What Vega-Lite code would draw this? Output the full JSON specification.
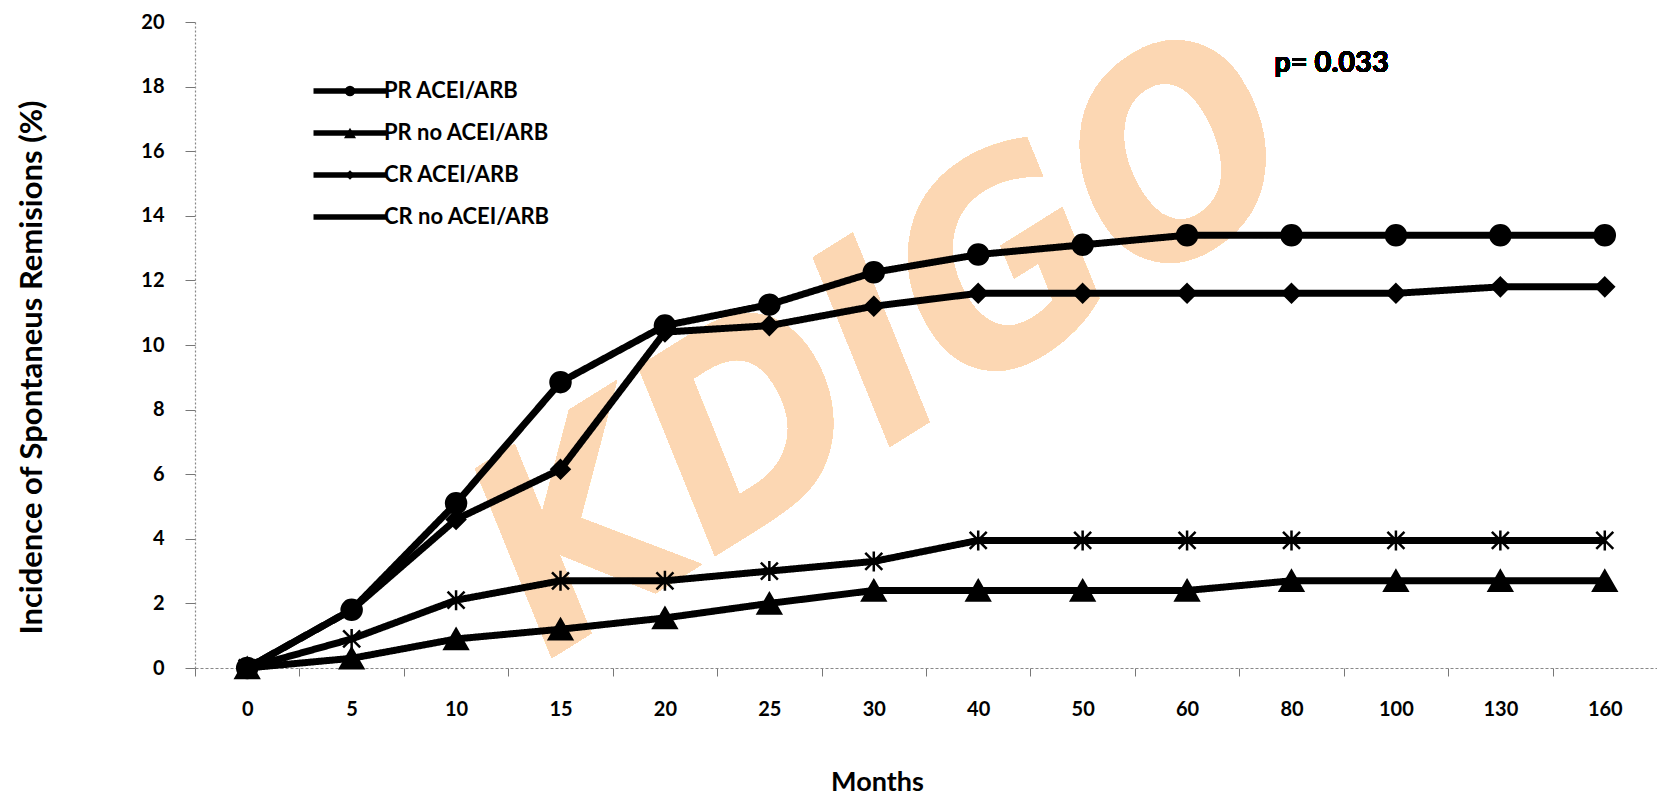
{
  "$schema": "https://vega.github.io/schema/vega-lite/v6.json",
  "width": 1462,
  "height": 646,
  "autosize": {"type": "none"},
  "padding": {"left": 195, "top": 22, "right": 0, "bottom": 128},
  "background": "white",
  "config": {
    "view": {"stroke": null},
    "font": "Lato",
    "axis": {"labelFont": "Lato", "titleFont": "Lato", "labelFontWeight": "bold", "titleFontWeight": "bold", "labelColor": "black", "titleColor": "black"}
  },
  "data": {
    "values": [
      {"m": 0, "v": 0, "s": "PR ACEI/ARB"},
      {"m": 5, "v": 1.8, "s": "PR ACEI/ARB"},
      {"m": 10, "v": 5.1, "s": "PR ACEI/ARB"},
      {"m": 15, "v": 8.85, "s": "PR ACEI/ARB"},
      {"m": 20, "v": 10.6, "s": "PR ACEI/ARB"},
      {"m": 25, "v": 11.25, "s": "PR ACEI/ARB"},
      {"m": 30, "v": 12.25, "s": "PR ACEI/ARB"},
      {"m": 40, "v": 12.8, "s": "PR ACEI/ARB"},
      {"m": 50, "v": 13.1, "s": "PR ACEI/ARB"},
      {"m": 60, "v": 13.4, "s": "PR ACEI/ARB"},
      {"m": 80, "v": 13.4, "s": "PR ACEI/ARB"},
      {"m": 100, "v": 13.4, "s": "PR ACEI/ARB"},
      {"m": 130, "v": 13.4, "s": "PR ACEI/ARB"},
      {"m": 160, "v": 13.4, "s": "PR ACEI/ARB"},
      {"m": 0, "v": 0, "s": "PR no ACEI/ARB"},
      {"m": 5, "v": 0.3, "s": "PR no ACEI/ARB"},
      {"m": 10, "v": 0.9, "s": "PR no ACEI/ARB"},
      {"m": 15, "v": 1.2, "s": "PR no ACEI/ARB"},
      {"m": 20, "v": 1.55, "s": "PR no ACEI/ARB"},
      {"m": 25, "v": 2.0, "s": "PR no ACEI/ARB"},
      {"m": 30, "v": 2.4, "s": "PR no ACEI/ARB"},
      {"m": 40, "v": 2.4, "s": "PR no ACEI/ARB"},
      {"m": 50, "v": 2.4, "s": "PR no ACEI/ARB"},
      {"m": 60, "v": 2.4, "s": "PR no ACEI/ARB"},
      {"m": 80, "v": 2.7, "s": "PR no ACEI/ARB"},
      {"m": 100, "v": 2.7, "s": "PR no ACEI/ARB"},
      {"m": 130, "v": 2.7, "s": "PR no ACEI/ARB"},
      {"m": 160, "v": 2.7, "s": "PR no ACEI/ARB"},
      {"m": 0, "v": 0, "s": "CR ACEI/ARB"},
      {"m": 5, "v": 1.8, "s": "CR ACEI/ARB"},
      {"m": 10, "v": 4.6, "s": "CR ACEI/ARB"},
      {"m": 15, "v": 6.15, "s": "CR ACEI/ARB"},
      {"m": 20, "v": 10.4, "s": "CR ACEI/ARB"},
      {"m": 25, "v": 10.6, "s": "CR ACEI/ARB"},
      {"m": 30, "v": 11.2, "s": "CR ACEI/ARB"},
      {"m": 40, "v": 11.6, "s": "CR ACEI/ARB"},
      {"m": 50, "v": 11.6, "s": "CR ACEI/ARB"},
      {"m": 60, "v": 11.6, "s": "CR ACEI/ARB"},
      {"m": 80, "v": 11.6, "s": "CR ACEI/ARB"},
      {"m": 100, "v": 11.6, "s": "CR ACEI/ARB"},
      {"m": 130, "v": 11.8, "s": "CR ACEI/ARB"},
      {"m": 160, "v": 11.8, "s": "CR ACEI/ARB"},
      {"m": 0, "v": 0, "s": "CR no ACEI/ARB"},
      {"m": 5, "v": 0.9, "s": "CR no ACEI/ARB"},
      {"m": 10, "v": 2.1, "s": "CR no ACEI/ARB"},
      {"m": 15, "v": 2.7, "s": "CR no ACEI/ARB"},
      {"m": 20, "v": 2.7, "s": "CR no ACEI/ARB"},
      {"m": 25, "v": 3.0, "s": "CR no ACEI/ARB"},
      {"m": 30, "v": 3.3, "s": "CR no ACEI/ARB"},
      {"m": 40, "v": 3.95, "s": "CR no ACEI/ARB"},
      {"m": 50, "v": 3.95, "s": "CR no ACEI/ARB"},
      {"m": 60, "v": 3.95, "s": "CR no ACEI/ARB"},
      {"m": 80, "v": 3.95, "s": "CR no ACEI/ARB"},
      {"m": 100, "v": 3.95, "s": "CR no ACEI/ARB"},
      {"m": 130, "v": 3.95, "s": "CR no ACEI/ARB"},
      {"m": 160, "v": 3.95, "s": "CR no ACEI/ARB"}
    ]
  },
  "encoding": {
    "x": {
      "field": "m", "type": "ordinal",
      "scale": {"type": "band", "paddingInner": 0, "paddingOuter": 0},
      "axis": {
        "title": "Months", "labelAngle": 0, "labelFontSize": 20, "labelPadding": 23,
        "tickBand": "extent", "tickSize": 8, "tickColor": "#777", "tickWidth": 1,
        "domainColor": "#888", "domainDash": [3, 2], "domainWidth": 1.2,
        "titleFontSize": 27, "titleX": 682, "titleY": 114, "titleBaseline": "middle", "titleAlign": "center"
      }
    },
    "y": {
      "field": "v", "type": "quantitative",
      "scale": {"domain": [0, 20], "nice": false},
      "axis": {
        "values": [0, 2, 4, 6, 8, 10, 12, 14, 16, 18, 20],
        "title": "Incidence of Spontaneus Remisions (%)",
        "grid": false, "labelFontSize": 20, "labelPadding": 21,
        "tickSize": 10, "tickColor": "#777", "tickWidth": 1,
        "domainColor": "#888", "domainDash": [2, 2], "domainWidth": 1.2,
        "titleFontSize": 31, "titleAngle": 270, "titleX": -163, "titleY": 345, "titleBaseline": "middle", "titleAlign": "center"
      }
    }
  },
  "layer": [
    {
      "mark": {"type": "text", "text": "KDIGO", "font": "DejaVu Sans Condensed, DejaVu Sans", "fontWeight": "bold", "fontStyle": "italic", "fontSize": 276, "align": "center", "baseline": "middle", "angle": -32, "dx": 16, "fill": "#FCD7B3"},
      "encoding": {"x": {"datum": 30}, "y": {"datum": 9.57}}
    },
    {
      "mark": {"type": "line", "color": "black", "strokeWidth": 7, "strokeJoin": "round"},
      "encoding": {
        "strokeDash": {
          "field": "s", "type": "nominal",
          "scale": {"range": [[1, 0], [1, 0], [1, 0], [1, 0]]},
          "legend": {
            "title": null, "orient": "none", "legendX": 144, "legendY": 58,
            "padding": 0, "labelFont": "Lato", "labelFontWeight": "bold", "labelFontSize": 22, "labelOpacity": 0, "labelLimit": 400,
            "labelOffset": 23, "rowPadding": 20, "symbolSize": 100, "symbolType": "M-7.3,0H7.3",
            "symbolStrokeWidth": 5.5, "symbolStrokeColor": "black", "symbolFillColor": "transparent", "symbolOpacity": 1, "symbolDash": [1, 0]
          }
        }
      }
    },
    {
      "mark": {"type": "point", "filled": true, "opacity": 1, "fill": "black", "stroke": "black", "strokeWidth": 2.5, "size": 400},
      "encoding": {
        "shape": {
          "field": "s", "type": "nominal",
          "scale": {
            "domain": ["PR ACEI/ARB", "PR no ACEI/ARB", "CR ACEI/ARB", "CR no ACEI/ARB"],
            "range": ["circle", "M0,-1L1.15,1H-1.15Z", "M0,-0.9L0.9,0L0,0.9L-0.9,0Z", "M0,-1V1M-0.85,-0.85L0.85,0.85M-0.85,0.85L0.85,-0.85"]
          },
          "legend": {
            "title": null, "orient": "none", "legendX": 144, "legendY": 58,
            "padding": 0, "labelFont": "Lato", "labelFontWeight": "bold", "labelFontSize": 22, "labelColor": "black", "labelLimit": 400,
            "labelOffset": 23, "rowPadding": 20, "symbolSize": 110, "symbolStrokeWidth": 1.5,
            "symbolFillColor": "black", "symbolStrokeColor": "black", "symbolOpacity": 1
          }
        }
      }
    },
    {
      "mark": {"type": "text", "text": "p= 0.033", "font": "Lato", "fontWeight": "bold", "fontSize": 29, "align": "center", "baseline": "middle", "dx": 40, "color": "black"},
      "encoding": {"x": {"datum": 80}, "y": {"datum": 18.73}}
    }
  ]
}
